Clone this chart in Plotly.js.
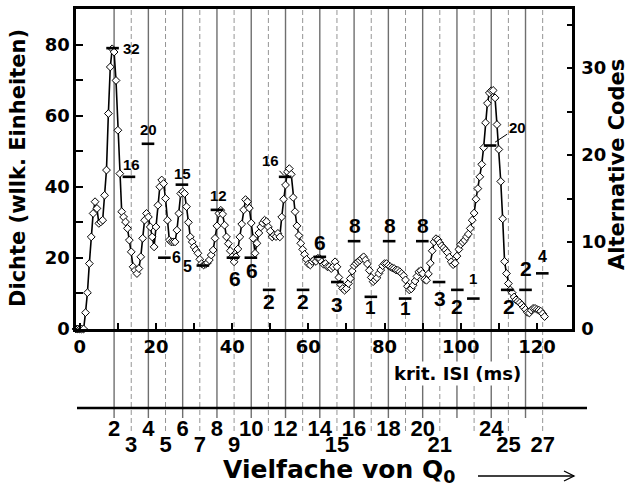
<!DOCTYPE html>
<html><head><meta charset="utf-8">
<script src="https://cdn.plot.ly/plotly-3.0.1.min.js"></script>
<style>html,body{margin:0;padding:0;background:#fff}#chart{width:631px;height:487px}</style>
</head><body><div id="chart"></div>
<script>
// ---------- data ----------
const Q0 = 4.5;               // ms per multiple of Q0
const densityStart = -1;      // ms
const densityStep = 0.5;      // ms
const density = [
  0,0,0,0,0,4.6,10.2,18.4,25.9,32.5,
  35.8,33.9,29.7,30.1,30.6,37.6,44.7,60.6,73.7,78.8,
  77.9,69.9,55.9,43.7,33,31.5,30.1,28.3,25,21.7,
  17.5,16.5,15.6,17,20.3,25.5,30.6,32.5,31.5,28.7,
  25.9,23.1,28.7,34.8,40,41.9,40.9,36.7,30.6,25,
  24.5,24.5,24.5,27.8,32.5,38.1,38.6,38.1,34.4,30,
  25.9,24.5,23.1,22.2,21.3,19.6,18.4,18,18.2,18.6,
  19.4,20.8,22.2,25.5,29,32.5,33.4,32.3,29.2,25.9,
  24,22,20.3,18.9,20.3,22.5,25.9,29.5,33.5,36.4,
  35.8,34,29.8,25.5,21.3,24.1,27,28.7,29.8,30.6,
  30.2,28.7,27.5,25.9,26.4,26,26.9,25.9,31.5,36.5,
  40.5,44.2,45.1,43.5,37,33,29,26.3,24.1,22.4,
  21,19.6,18.3,18,19,19.4,19,19.9,19.8,18.9,
  18.2,18.4,17.5,17.5,17,17.5,18.9,17.5,14.5,12.5,
  11.4,10.9,11.4,12.8,14.2,16.3,17.8,18.4,18.9,19.3,
  19.8,20.3,19.4,18.3,16.5,14.5,13.3,13.8,14.4,15.6,
  16.6,17.8,18.4,18.4,17.9,17.5,17.2,17,16.6,16.5,
  16.1,15.6,15,13.8,12,11,11.3,12.3,13.5,14.8,
  16.1,16.4,15.6,14,13.7,15.5,18.5,22,24.5,25.4,
  25.1,24.2,23.4,22.8,22.2,21.5,20.2,18.9,18.1,18.5,
  20.5,22.4,23.8,24.4,25,25.9,26.7,28.3,30.6,32.6,
  36.5,39.5,42.8,46.3,51,58,63.5,66.4,67,67.1,
  65,57.5,50.5,41.5,31,19,15.6,12.8,11,10.2,
  9,8.2,7.8,7.4,6.8,6.1,5.5,4.7,4.5,5.3,
  5.8,5.8,5.5,5.3,5,4.3,3.5
];
const codeX = [8.6,12.9,17.9,22.2,26.8,32.3,36.0,40.2,44.9,49.7,53.9,58.6,63.0,67.6,72.0,76.4,81.2,85.4,89.9,94.3,99.1,103.3,107.7,112.2,117.0,121.4];
const codeY = [32.3,17.5,21.3,8.2,16.6,7.3,13.7,8.2,8.2,4.5,17.5,4.5,8.3,5.4,10.1,3.7,10.1,3.5,10.1,5.4,4.5,3.5,21.1,4.5,4.5,6.4];
const codeLabels = ["32","16","20","6","15","5","12","6","6","2","16","2","6","3","8","1","8","1","8","3","2","1","20","2","2","4"];
const multiples = [2,3,4,5,6,7,8,9,10,11,12,13,14,15,16,17,18,19,20,21,22,23,24,25,26,27];
const evenLabels = [2,4,6,8,10,12,14,16,18,20,24];
const oddLabels = [3,5,7,9,15,21,25,27];
const msRange = [-1, 129.2];

// ---------- styles / placement (not data) ----------
const labelDX   = [19,3,0,12,1,-15,2,2,1,0,0,0,0,0,1,0,1,0,1,1,0,0,0,2,0,0];
const labelDY   = [0,12,14,0,11,-1,14,-21,-13,-12,0,-12,14,-22,16,-11,16,-10,16,-16,-17,20,0,-17,21,17];
const labelSize = [15,15,15,16,15,16,15,21,21,21,15,21,21,21,21,19,21,19,21,21,21,15,15,21,21,16];
const leader = {10:{ax:-15,ay:-16,standoff:2}, 22:{ax:27,ay:-18,standoff:6}};

const plotL=76, plotR=572, plotT=9, plotB=329, axis2Y=408;
const paperH = axis2Y - plotT;
const py = Y => (axis2Y - Y) / paperH;
const px = X => (X - plotL) / (plotR - plotL);

const bold = {weight:'bold', color:'black'};
const fDV = s => Object.assign({family:'DejaVu Sans', size:s}, bold);
const fLS = s => Object.assign({family:'Liberation Sans, Arial', size:s}, bold);

const traces = [
  {type:'scatter', mode:'lines+markers', x0:densityStart, dx:densityStep, y:density,
   line:{color:'black', width:1.6},
   marker:{symbol:'diamond', size:6, color:'white', line:{color:'black', width:1}},
   cliponaxis:false, showlegend:false, hoverinfo:'skip'},
  {type:'scatter', mode:'markers', x:codeX, y:codeY, yaxis:'y2',
   marker:{symbol:'line-ew', size:9, color:'black', line:{color:'black', width:2.6}},
   cliponaxis:false, showlegend:false, hoverinfo:'skip'},
  {type:'scatter', x:[], y:[], xaxis:'x2', yaxis:'y', showlegend:false, hoverinfo:'skip'},
  {type:'scatter', x:[], y:[], xaxis:'x3', yaxis:'y', showlegend:false, hoverinfo:'skip'}
];

const shapes = multiples.map(n => {
  const even = n % 2 === 0;
  return {type:'line', xref:'x', yref:'paper', x0:n*Q0, x1:n*Q0,
    y0: even ? py(418) : py(431), y1:1, layer:'below',
    line:{color: even ? '#6f6f6f' : '#959595', width: even ? 1.4 : 1, dash: even ? 'solid' : '5px,3px'}};
});
shapes.push({type:'line', xref:'paper', yref:'paper', x0:px(77), x1:px(587), y0:0, y1:0,
  line:{color:'black', width:2.6}});
shapes.push({type:'line', xref:'paper', yref:'paper', x0:px(478), x1:px(574), y0:py(476), y1:py(476),
  line:{color:'black', width:1.3}});
shapes.push({type:'path', xref:'paper', yref:'paper',
  path:`M${px(564)},${py(471)} L${px(574)},${py(476)} L${px(564)},${py(481)}`,
  line:{color:'black', width:1.3}});

const annotations = codeX.map((x, i) => {
  const a = {xref:'x', yref:'y2', x:x, y:codeY[i], text:codeLabels[i],
    font:fLS(labelSize[i]), showarrow:false, xanchor:'center', yanchor:'middle',
    xshift:labelDX[i], yshift:labelDY[i]};
  if (leader[i]) {
    Object.assign(a, {showarrow:true, arrowhead:0, arrowwidth:1, arrowcolor:'black',
      ax:leader[i].ax, ay:leader[i].ay, standoff:leader[i].standoff, xshift:0, yshift:0});
  }
  return a;
});
annotations.push({xref:'paper', yref:'paper', x:px(457), y:py(373), text:'krit. ISI (ms)',
  showarrow:false, font:fDV(18), bgcolor:'white', xanchor:'center', yanchor:'middle', borderpad:1});
annotations.push({xref:'paper', yref:'paper', x:px(221), y:py(471), text:'Vielfache von Q<sub>0</sub>',
  showarrow:false, font:fDV(25), xanchor:'left', yanchor:'middle'});
annotations.push({xref:'paper', yref:'paper', x:px(18), y:py(168), text:'Dichte (wllk. Einheiten)',
  showarrow:false, font:fDV(21), textangle:-90, xanchor:'center', yanchor:'middle'});
annotations.push({xref:'paper', yref:'paper', x:px(617), y:py(165), text:'Alternative Codes',
  showarrow:false, font:fDV(21), textangle:-90, xanchor:'center', yanchor:'middle'});

const tickStyle = {ticks:'inside', tickwidth:2, tickcolor:'black', showgrid:false, zeroline:false,
  showline:true, linewidth:2.6, linecolor:'black'};

const layout = {
  width:631, height:487,
  margin:{l:plotL, r:631-plotR, t:plotT, b:487-axis2Y, pad:0},
  paper_bgcolor:'white', plot_bgcolor:'rgba(0,0,0,0)',
  showlegend:false,
  xaxis: Object.assign({}, tickStyle, {domain:[0,1], range:msRange, anchor:'y', tick0:0, dtick:20, ticklen:6,
    minor:{tick0:0, dtick:10, ticks:'inside', ticklen:6, tickwidth:2, tickcolor:'black'},
    mirror:true, tickfont:fDV(18), ticklabelstandoff:0}),
  yaxis: Object.assign({}, tickStyle, {domain:[py(plotB),1], range:[0,90], anchor:'x', tick0:0, dtick:20, ticklen:7,
    minor:{tick0:0, dtick:10, ticks:'inside', ticklen:7, tickwidth:2, tickcolor:'black'},
    mirror:true, tickfont:fDV(18), ticklabelstandoff:0}),
  yaxis2: Object.assign({}, tickStyle, {overlaying:'y', side:'right', anchor:'x', range:[0,36.8], tick0:0, dtick:10, ticklen:5,
    minor:{tick0:0, dtick:5, ticks:'inside', ticklen:5, tickwidth:2, tickcolor:'black'},
    tickfont:fDV(18), ticklabelstandoff:3}),
  xaxis2: {overlaying:'x', anchor:'free', position:0, range:msRange.map(v => v / Q0),
    tickvals:evenLabels, ticktext:evenLabels.map(String), ticks:'', showline:false, showgrid:false,
    zeroline:false, tickfont:fLS(22), ticklabelstandoff:5},
  xaxis3: {overlaying:'x', anchor:'free', position:0, range:msRange.map(v => v / Q0),
    tickvals:oddLabels, ticktext:oddLabels.map(String), ticks:'', showline:false, showgrid:false,
    zeroline:false, tickfont:fLS(22), ticklabelstandoff:21},
  shapes:shapes,
  annotations:annotations
};

Plotly.newPlot('chart', traces, layout, {staticPlot:true, displayModeBar:false});
</script>
</body></html>
